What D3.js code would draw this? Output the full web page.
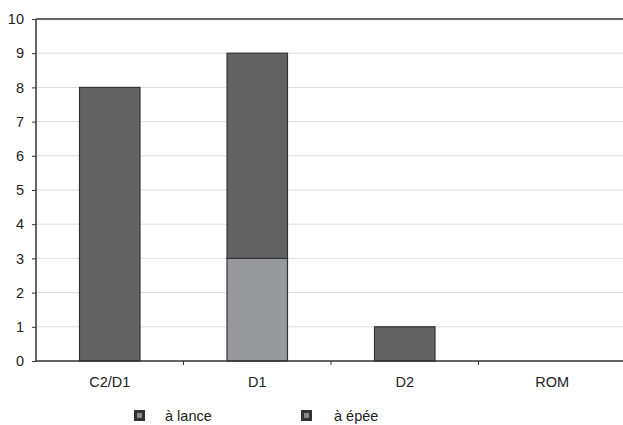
<!DOCTYPE html>
<html><head><meta charset="utf-8">
<script src="https://cdn.jsdelivr.net/npm/d3@7"></script>
<style>html,body{margin:0;padding:0;background:#fff;overflow:hidden}</style>
</head><body>
<svg id="c" width="623" height="425"></svg>
<script>
const categories = ["C2/D1", "D1", "D2", "ROM"];
const lance = [0, 3, 0, 0];
const epee = [8, 6, 1, 0];
const seriesNames = ["à lance", "à épée"];
const yTicks = [0,1,2,3,4,5,6,7,8,9,10];

const svg = d3.select("#c");
const font = "'Liberation Sans', Arial, sans-serif";
const x = d3.scaleBand().domain(categories).range([36, 626]);
const y = d3.scaleLinear().domain([0, 10]).range([361, 19]);

// gridlines
svg.append("g").selectAll("line").data(yTicks.filter(d => d > 0 && d < 10)).join("line")
  .attr("x1", 36).attr("x2", 626).attr("y1", d => y(d)).attr("y2", d => y(d))
  .attr("stroke", "#dcdcdc").attr("stroke-width", 1);

// top border
svg.append("line").attr("x1", 36).attr("x2", 626).attr("y1", y(10)).attr("y2", y(10))
  .attr("stroke", "#333").attr("stroke-width", 1.5);

// stacked data
const rows = categories.map((c, i) => ({cat: c, lance: lance[i], epee: epee[i]}));
const stack = d3.stack().keys(["lance", "epee"])(rows);
const colors = {lance: "#97989c", epee: "#636363"};
const bw = x.bandwidth() * 0.41;
stack.forEach(s => {
  svg.append("g").selectAll("rect").data(s.filter(d => d[1] - d[0] > 0)).join("rect")
    .attr("x", d => x(d.data.cat) + x.bandwidth() / 2 - bw / 2)
    .attr("width", bw)
    .attr("y", d => y(d[1]))
    .attr("height", d => y(d[0]) - y(d[1]))
    .attr("fill", colors[s.key])
    .attr("stroke", "#333").attr("stroke-width", 1.2);
});

// y axis
const ya = svg.append("g").attr("transform", "translate(36,0)")
  .call(d3.axisLeft(y).tickValues(yTicks).tickSize(4).tickPadding(8).tickFormat(d3.format("d")));
ya.select(".domain").attr("stroke", "#333").attr("stroke-width", 1.5).attr("d", `M0,${y(10)}V${y(0)}`);
ya.selectAll(".tick line").attr("stroke", "#333");
ya.selectAll("text").attr("font-family", font).attr("font-size", 14.5).attr("fill", "#222");

// x axis
const xa = svg.append("g").attr("transform", `translate(0,${y(0)})`)
  .call(d3.axisBottom(x).tickSize(0).tickPadding(16));
xa.select(".domain").attr("stroke", "#333").attr("stroke-width", 1.5).attr("d", "M36,0H626");
xa.selectAll("text").attr("font-family", font).attr("font-size", 14.5).attr("fill", "#222");
// boundary ticks
svg.append("g").selectAll("line").data(categories.slice(1)).join("line")
  .attr("x1", d => x(d)).attr("x2", d => x(d)).attr("y1", y(0)).attr("y2", y(0) + 4)
  .attr("stroke", "#333").attr("stroke-width", 1);

// legend
const leg = [{name: seriesNames[0], mx: 134, tx: 165}, {name: seriesNames[1], mx: 301, tx: 334}];
const lg = svg.append("g").selectAll("g").data(leg).join("g");
lg.append("rect").attr("x", d => d.mx).attr("y", 410).attr("width", 11).attr("height", 11).attr("fill", "#333");
lg.append("rect").attr("x", d => d.mx + 3).attr("y", 413).attr("width", 5).attr("height", 5).attr("fill", "#8a8a8a");
lg.append("text").attr("x", d => d.tx).attr("y", 421).text(d => d.name)
  .attr("font-family", font).attr("font-size", 14.5).attr("fill", "#222");
</script>
</body></html>
